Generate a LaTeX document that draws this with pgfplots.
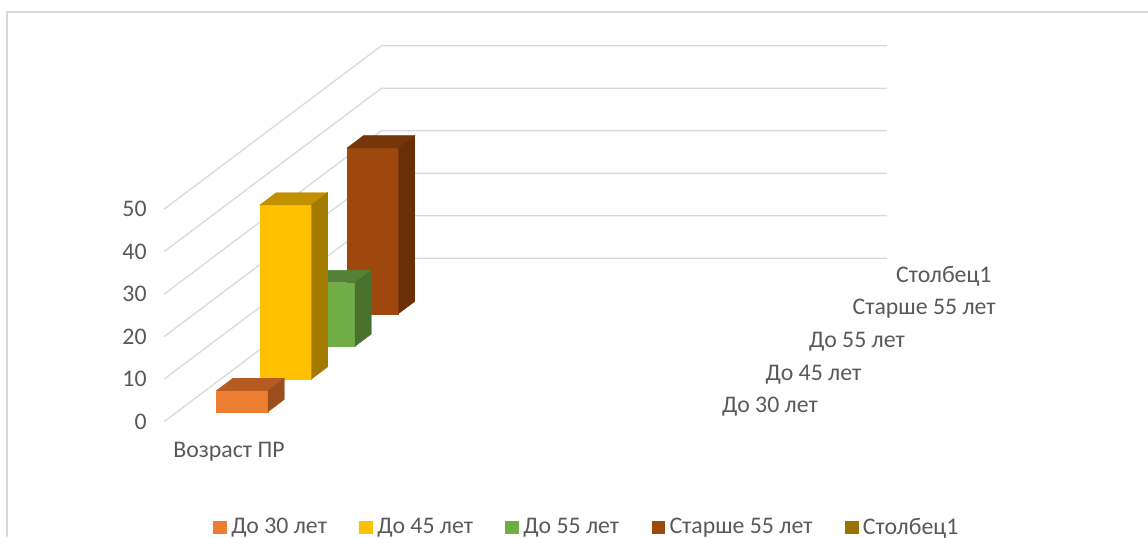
\documentclass[border=0pt]{standalone}
\usepackage{fontspec}
\setmainfont{Carlito}
\usepackage{pgfplots}
\pgfplotsset{compat=1.18}
\definecolor{gridc}{HTML}{D9D9D9}
\definecolor{txt}{HTML}{595959}
\definecolor{oF}{HTML}{ED7D31}\definecolor{oT}{HTML}{B55B22}\definecolor{oS}{HTML}{9C4D1C}
\definecolor{yF}{HTML}{FFC000}\definecolor{yT}{HTML}{C29100}\definecolor{yS}{HTML}{A27A00}
\definecolor{gF}{HTML}{70AD47}\definecolor{gT}{HTML}{548235}\definecolor{gS}{HTML}{47712C}
\definecolor{bF}{HTML}{9E480E}\definecolor{bT}{HTML}{773609}\definecolor{bS}{HTML}{6B2F08}
\definecolor{cF}{HTML}{997300}
\newcommand{\lf}{\fontsize{11.9}{14}\selectfont}
% #1 front depth, #2 back depth, #3 value, #4 front colour, #5 top colour, #6 side colour
\newcommand{\cuboid}[6]{%
  \addplot3[forget plot, fill=#4, draw=#4, line width=0.2pt] coordinates {(39,#1,0) (90.7,#1,0) (90.7,#1,#3) (39,#1,#3)};
  \addplot3[forget plot, fill=#5, draw=#5, line width=0.2pt] coordinates {(39,#1,#3) (90.7,#1,#3) (90.7,#2,#3) (39,#2,#3)};
  \addplot3[forget plot, fill=#6, draw=#6, line width=0.2pt] coordinates {(90.7,#1,0) (90.7,#2,0) (90.7,#2,#3) (90.7,#1,#3)};
}
\begin{document}
\begin{tikzpicture}
\draw[gridc, line width=1pt] (3.5pt,0pt) -- (3.5pt,262.5pt) -- (574pt,262.5pt);
\begin{axis}[
  at={(82pt,57.65pt)}, anchor=origin,
  x={(0.5pt,0pt)}, y={(21.75pt,16.35pt)}, z={(0pt,2.125pt)},
  disabledatascaling,
  xmin=0, xmax=505.5, ymin=0, ymax=5, zmin=0, zmax=50,
  hide axis, clip=false,
  legend columns=-1,
  legend image code/.code={\fill[#1, draw=none] (0pt,-3.4pt) rectangle (6.8pt,3.4pt);},
  legend style={at={(legpos)}, anchor=center, draw=none, fill=none,
    font=\lf, text=txt, inner sep=0pt,
    /tikz/every even column/.append style={column sep=14pt},
    nodes={inner xsep=2.2pt}},
]
\pgfplotsinvokeforeach{0,10,20,30,40,50}{
  \addplot3[forget plot, gridc, line width=0.65pt] coordinates {(0,0,#1) (0,5,#1) (505.5,5,#1)};
}
% Старше 55 лет (row 4), До 55 лет (row 3), До 45 лет (row 2), До 30 лет (row 1)
\cuboid{3.30}{3.68}{39}{bF}{bT}{bS}
\cuboid{2.30}{2.68}{15}{gF}{gT}{gS}
\cuboid{1.30}{1.68}{41}{yF}{yT}{yS}
\cuboid{0.30}{0.68}{5}{oF}{oT}{oS}
\addlegendimage{fill=oF}\addlegendentry{До 30 лет}
\addlegendimage{fill=yF}\addlegendentry{До 45 лет}
\addlegendimage{fill=gF}\addlegendentry{До 55 лет}
\addlegendimage{fill=bF}\addlegendentry{Старше 55 лет}
\addlegendimage{fill=cF}\addlegendentry{Столбец1}
\coordinate (legpos) at (axis cs:424,0,-24.9);
\pgfplotsinvokeforeach{0,10,20,30,40,50}{
  \node[anchor=east, font=\lf, text=txt, inner sep=0pt] at (axis cs:0,0,#1) [xshift=-8.5pt] {#1};
}
\node[font=\lf, text=txt, inner sep=0pt] at (axis cs:65,0,-7.1) {Возраст ПР};
\node[anchor=west, font=\lf, text=txt, inner sep=0pt] at (axis cs:536,0.5,-0.4) {До 30 лет};
\node[anchor=west, font=\lf, text=txt, inner sep=0pt] at (axis cs:536,1.5,-0.4) {До 45 лет};
\node[anchor=west, font=\lf, text=txt, inner sep=0pt] at (axis cs:536,2.5,-0.4) {До 55 лет};
\node[anchor=west, font=\lf, text=txt, inner sep=0pt] at (axis cs:536,3.5,-0.4) {Старше 55 лет};
\node[anchor=west, font=\lf, text=txt, inner sep=0pt] at (axis cs:536,4.5,-0.4) {Столбец1};
\end{axis}
\pgfresetboundingbox
\useasboundingbox (0pt,0pt) rectangle (574pt,268.5pt);
\end{tikzpicture}
\end{document}
